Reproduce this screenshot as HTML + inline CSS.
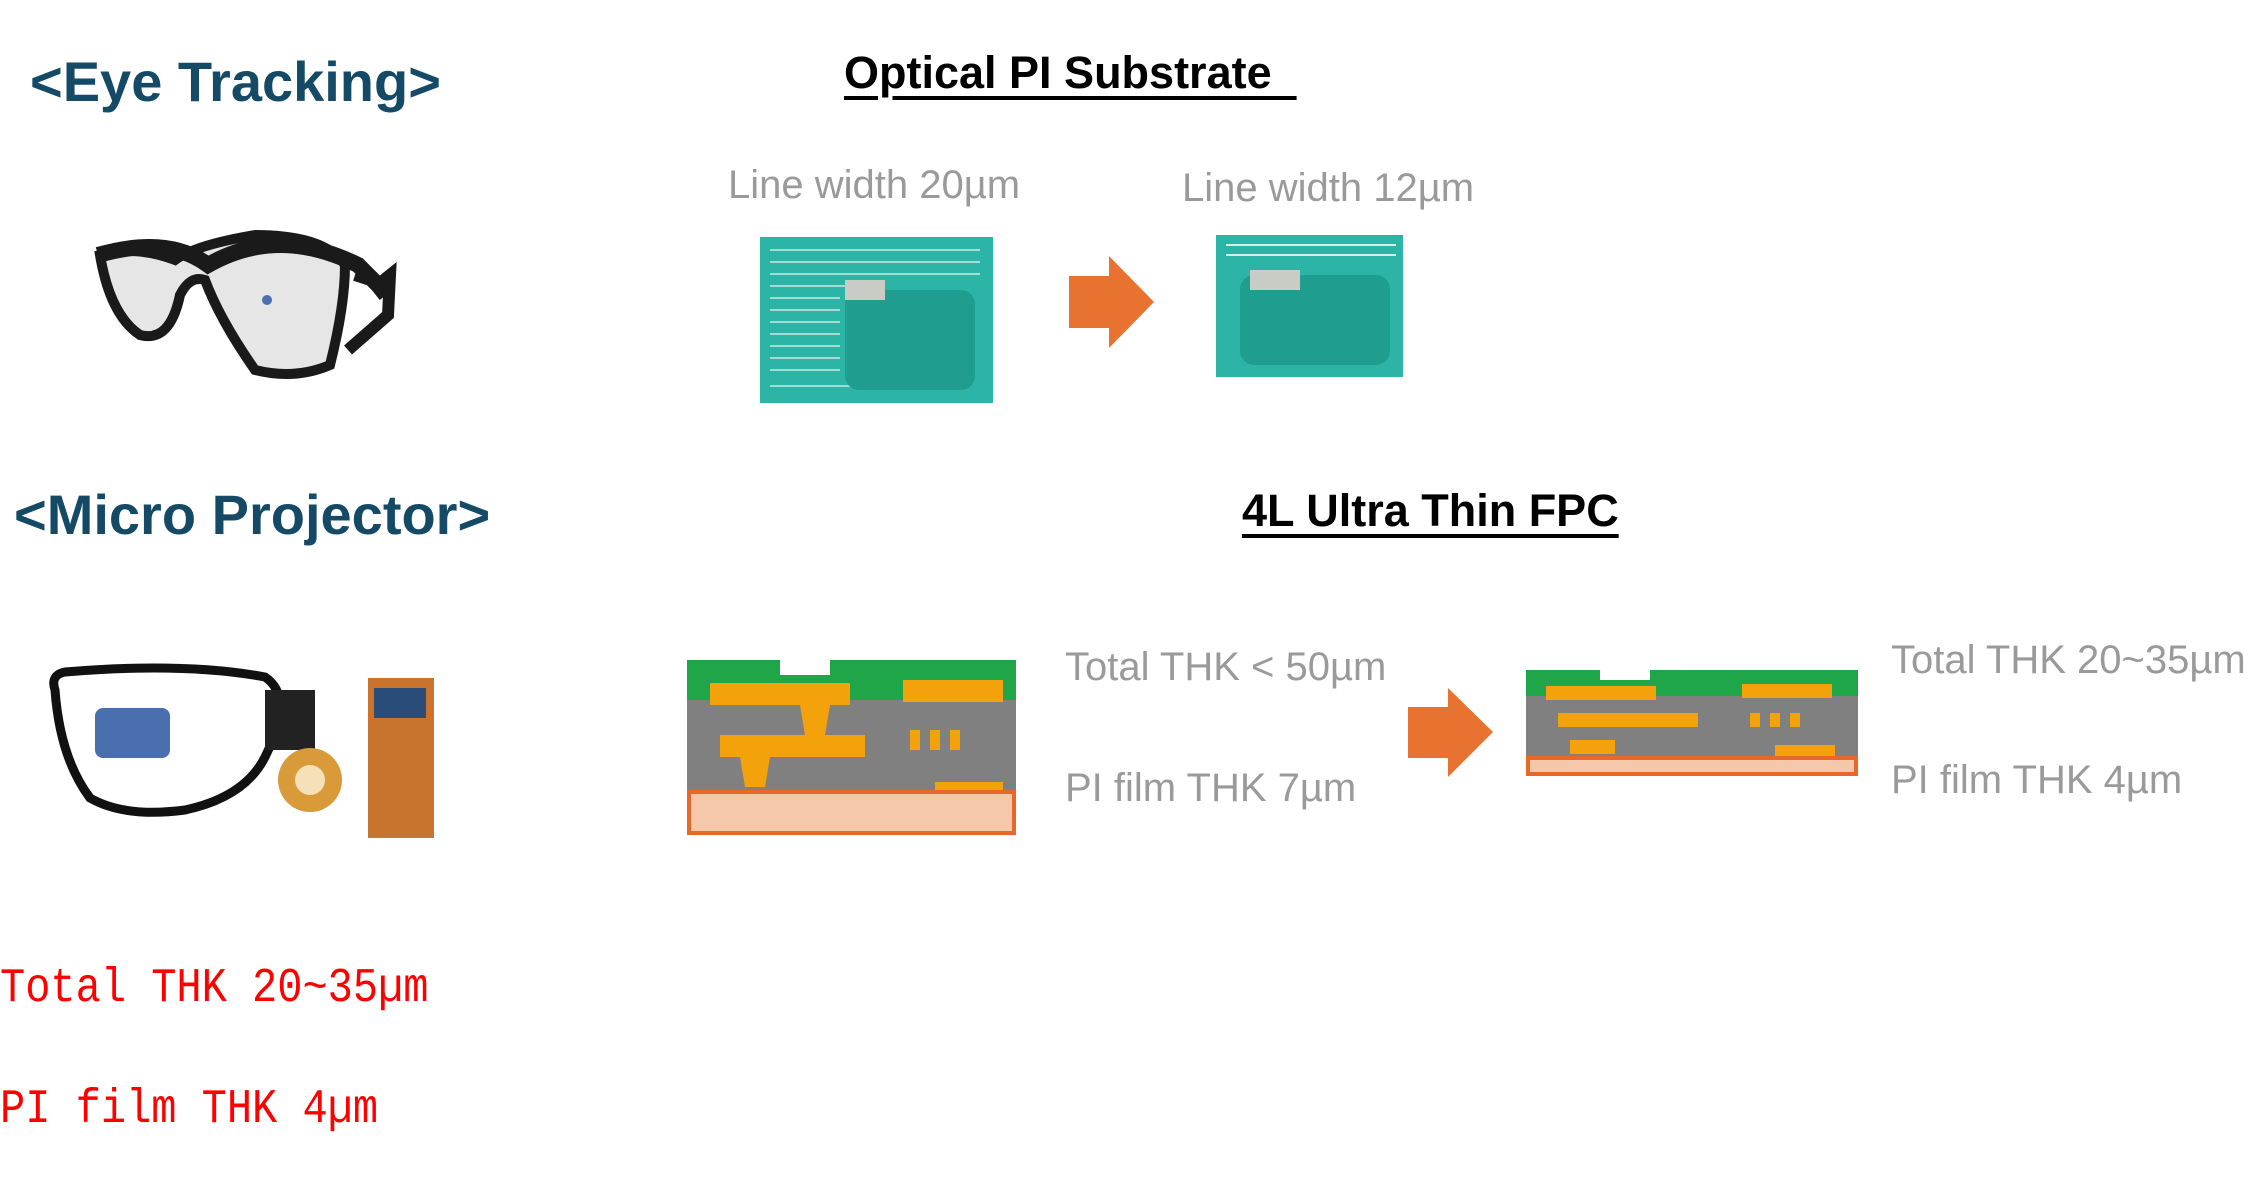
<!DOCTYPE html>
<html><head><meta charset="utf-8"><style>
body{margin:0;width:2257px;height:1187px;background:#fff;position:relative;overflow:hidden;font-family:"Liberation Sans",sans-serif}
.t{position:absolute;white-space:nowrap;line-height:1}
.h{color:#154a66;font-weight:bold;font-size:56px}
.u{color:#000;font-weight:bold;font-size:45px;text-decoration:underline;text-decoration-thickness:4px;text-underline-offset:8px}
.g{color:#9a9a9a;font-size:40px}
.r{color:#f00;font-family:"Liberation Mono",monospace;font-size:42px;transform:scaleY(1.15);transform-origin:0 0}
</style></head><body>
<div class="t h" style="left:30px;top:54px">&lt;Eye Tracking&gt;</div>
<div class="t u" style="left:844px;top:50px">Optical PI Substrate&nbsp;&nbsp;</div>
<div class="t g" style="left:728px;top:165px">Line width 20µm</div>
<div class="t g" style="left:1182px;top:168px">Line width 12µm</div>
<div class="t h" style="left:14px;top:487px">&lt;Micro Projector&gt;</div>
<div class="t u" style="left:1242px;top:488px">4L Ultra Thin FPC</div>
<div class="t g" style="left:1065px;top:647px">Total THK &lt; 50µm</div>
<div class="t g" style="left:1065px;top:768px">PI film THK 7µm</div>
<div class="t g" style="left:1891px;top:640px">Total THK 20~35µm</div>
<div class="t g" style="left:1891px;top:760px">PI film THK 4µm</div>
<div class="t r" style="left:0;top:964px">Total THK 20~35µm</div>
<div class="t r" style="left:0;top:1085px">PI film THK 4µm</div>
<svg width="2257" height="1187" style="position:absolute;left:0;top:0">
<!-- glasses 1 -->
<g>
<path d="M250 238 q-10 15 10 22 q25 8 20 45" stroke="#222" stroke-width="4" fill="none"/>
<path d="M100 255 q10 60 40 80 q30 8 40 -40 q10 -20 25 -15 q15 40 50 90 q40 10 75 -5 q15 -60 15 -100 q-20 -30 -90 -30 q-60 10 -80 25 q-40 -15 -75 -5z" fill="#e6e6e6" stroke="#1a1a1a" stroke-width="10"/>
<path d="M98 255 q70 -20 110 10 q70 -40 150 0 l20 20 l8 10" stroke="#1a1a1a" stroke-width="16" fill="none"/>
<path d="M355 275 l25 8 l10 -8 l-2 40 l-40 35" stroke="#1a1a1a" stroke-width="12" fill="none"/>
<circle cx="267" cy="300" r="5" fill="#4a6fae"/>
</g>
<!-- teal images -->
<rect x="760" y="237" width="233" height="166" fill="#2cb5a6"/>
<g stroke="#d8efe8" stroke-width="2" opacity="0.7">
<path d="M770 250h210M770 262h210M770 274h210M770 286h90M770 298h70M770 310h70M770 322h70M770 334h70M770 346h70M770 358h70M770 370h70M770 386h200"/>
</g>
<rect x="845" y="290" width="130" height="100" rx="14" fill="#1f9e90"/>
<path d="M845 280h40v20h-40z" fill="#c8ccc4"/>
<rect x="1216" y="235" width="187" height="142" fill="#2cb5a6"/>
<path d="M1226 245h170M1226 255h170" stroke="#d8efe8" stroke-width="2"/>
<rect x="1240" y="275" width="150" height="90" rx="14" fill="#1f9e90"/>
<path d="M1250 270h50v20h-50z" fill="#c8ccc4"/>
<!-- arrows -->
<path d="M1069 276h40v-20l45 46l-45 46v-20h-40z" fill="#e87330"/>
<path d="M1408 707h40v-19l45 44l-45 45v-19h-40z" fill="#e87330"/>
<!-- micro projector glasses -->
<path d="M55 690 q-5 -15 10 -18 q120 -10 200 5 q30 20 0 80 q-20 40 -80 53 q-60 8 -95 -12 q-30 -40 -35 -108z" fill="#fff" stroke="#111" stroke-width="9"/>
<rect x="95" y="708" width="75" height="50" rx="8" fill="#4a6fae"/>
<rect x="265" y="690" width="50" height="60" fill="#222"/>
<circle cx="310" cy="780" r="32" fill="#d99a3a"/>
<circle cx="310" cy="780" r="15" fill="#f6e0b8"/>
<rect x="368" y="678" width="66" height="160" fill="#c8742e"/>
<rect x="374" y="688" width="52" height="30" fill="#2a4c78"/>
<!-- stack 1 -->
<g>
<rect x="687" y="660" width="329" height="130" fill="#808080"/>
<rect x="687" y="660" width="329" height="40" fill="#1fa649"/>
<rect x="780" y="655" width="50" height="20" fill="#fff"/>
<rect x="710" y="683" width="140" height="22" fill="#f4a20c"/>
<rect x="903" y="680" width="100" height="22" fill="#f4a20c"/>
<rect x="720" y="735" width="145" height="22" fill="#f4a20c"/>
<path d="M800 705h30l-5 30h-20z M740 757h30l-5 30h-20z" fill="#f4a20c"/>
<rect x="910" y="730" width="10" height="20" fill="#f4a20c"/><rect x="930" y="730" width="10" height="20" fill="#f4a20c"/><rect x="950" y="730" width="10" height="20" fill="#f4a20c"/>
<rect x="935" y="782" width="68" height="10" fill="#f4a20c"/>
<rect x="689" y="792" width="325" height="41" fill="#f6c8ab" stroke="#e8682a" stroke-width="4"/>
</g>
<!-- stack 2 -->
<g>
<rect x="1526" y="670" width="332" height="88" fill="#808080"/>
<rect x="1526" y="670" width="332" height="26" fill="#1fa649"/>
<rect x="1600" y="668" width="50" height="12" fill="#fff"/>
<rect x="1546" y="686" width="110" height="14" fill="#f4a20c"/>
<rect x="1742" y="684" width="90" height="14" fill="#f4a20c"/>
<rect x="1558" y="713" width="140" height="14" fill="#f4a20c"/>
<rect x="1750" y="713" width="10" height="14" fill="#f4a20c"/><rect x="1770" y="713" width="10" height="14" fill="#f4a20c"/><rect x="1790" y="713" width="10" height="14" fill="#f4a20c"/>
<rect x="1570" y="740" width="45" height="14" fill="#f4a20c"/>
<rect x="1775" y="745" width="60" height="12" fill="#f4a20c"/>
<rect x="1528" y="758" width="328" height="16" fill="#f6c8ab" stroke="#e8682a" stroke-width="4"/>
</g>
</svg>
</body></html>
